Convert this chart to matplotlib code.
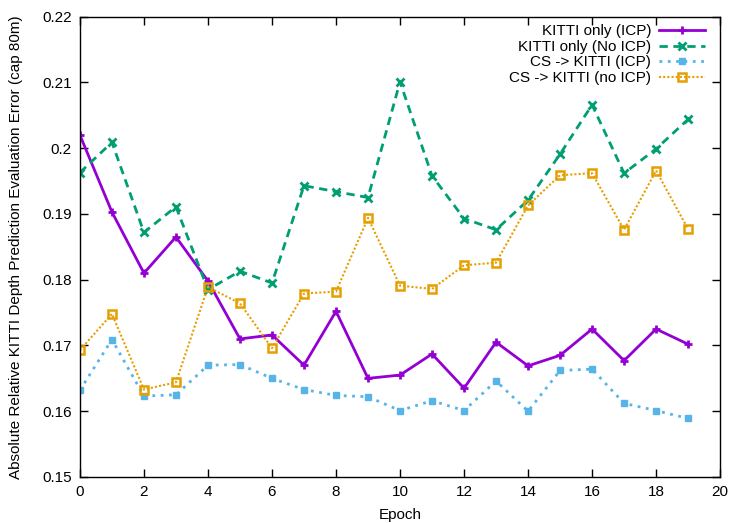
import matplotlib.pyplot as plt

plt.rcParams["font.family"] = ["Liberation Sans", "DejaVu Sans"]

epochs = list(range(20))

kitti_icp = [0.2020, 0.1903, 0.1810, 0.1865, 0.1798, 0.1710, 0.1716, 0.1670, 0.1752, 0.1650,
             0.1655, 0.1687, 0.1635, 0.1705, 0.1669, 0.1685, 0.1725, 0.1677, 0.1725, 0.1702]
kitti_noicp = [0.1963, 0.2009, 0.1872, 0.1911, 0.1785, 0.1813, 0.1795, 0.1943, 0.1934, 0.1925,
               0.2101, 0.1958, 0.1893, 0.1876, 0.1921, 0.1991, 0.2066, 0.1962, 0.1999, 0.2044]
cs_icp = [0.1632, 0.1709, 0.1623, 0.1625, 0.1670, 0.1671, 0.1650, 0.1633, 0.1624, 0.1622,
          0.1601, 0.1616, 0.1601, 0.1646, 0.1600, 0.1662, 0.1664, 0.1612, 0.1601, 0.1589]
cs_noicp = [0.1693, 0.1748, 0.1633, 0.1644, 0.1789, 0.1764, 0.1696, 0.1779, 0.1782, 0.1894,
            0.1791, 0.1786, 0.1822, 0.1826, 0.1913, 0.1959, 0.1962, 0.1876, 0.1966, 0.1877]

fig = plt.figure(figsize=(7.47, 5.23), dpi=100)
ax = fig.add_axes([0.107, 0.088, 0.857, 0.880])

ax.plot(epochs, kitti_icp, color="#9400d3", lw=2, marker="+", ms=6, mew=2,
        label="KITTI only (ICP)")
ax.plot(epochs, kitti_noicp, color="#009e73", lw=2, ls=(0, (3, 2)), marker="x", ms=5.5, mew=2,
        label="KITTI only (No ICP)")
ax.plot(epochs, cs_icp, color="#56b4e9", lw=2, ls=(0, (1, 2)), marker="s", ms=5,
        label="CS -> KITTI (ICP)")
ax.plot(epochs, cs_noicp, color="#e69f00", lw=1.5, ls=(0, (1, 1)), marker="s", ms=5.5,
        mfc="none", mew=1.8, label="CS -> KITTI (no ICP)")

ax.set_xlim(0, 20)
ax.set_ylim(0.15, 0.22)
ax.set_xticks(range(0, 21, 2))
ax.set_yticks([0.15, 0.16, 0.17, 0.18, 0.19, 0.20, 0.21, 0.22])
ax.set_yticklabels(["0.15", "0.16", "0.17", "0.18", "0.19", "0.2", "0.21", "0.22"])
ax.tick_params(direction="in", top=True, right=True, length=6, labelsize=11, width=1, pad=6)
for s in ax.spines.values():
    s.set_linewidth(1)
ax.set_xlabel("Epoch", fontsize=11, labelpad=6)
ax.set_ylabel("Absolute Relative KITTI Depth Prediction Evaluation Error (cap 80m)",
              fontsize=11, labelpad=14)

ax.legend(loc="upper right", bbox_to_anchor=(0.988, 1.0), frameon=False, markerfirst=False,
          fontsize=11, handlelength=3, labelspacing=0.1, borderaxespad=0.1, handletextpad=0.5)

plt.savefig("out.png", dpi=100)
